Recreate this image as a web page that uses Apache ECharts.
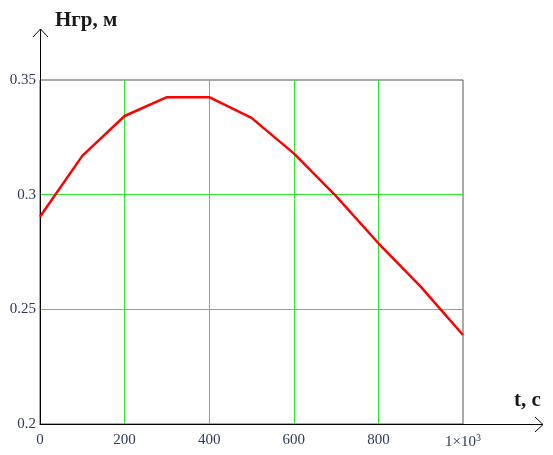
<!DOCTYPE html>
<html>
<head>
<meta charset="utf-8">
<script src="https://cdn.jsdelivr.net/npm/echarts@6/dist/echarts.min.js"></script>
<style>html,body{margin:0;padding:0;background:#fff}#c{width:553px;height:455px}</style>
</head>
<body>
<div id="c"></div>
<script>
var tValues = [0, 100, 200, 300, 400, 500, 600, 700, 800, 900, 1000];
var hValues = [0.2904, 0.3169, 0.3343, 0.3425, 0.3425, 0.3335, 0.3180, 0.2994, 0.2788, 0.2599, 0.2388];
var xTickLabels = {0: '0', 200: '200', 400: '400', 600: '600', 800: '800', 1000: '{a|1×10}{s|3}'};
var yTitle = 'Нгр, м';
var xTitle = 't, c';

var chart = echarts.init(document.getElementById('c'), null, {renderer: 'canvas'});
var labelColor = '#2f3958';
var font = '"Liberation Serif", "DejaVu Serif", serif';
var L = 40, T = 80, R = 463, B = 424;
chart.setOption({
  animation: false,
  grid: {left: L, top: T, right: 553 - R, bottom: 455 - B, show: true, borderColor: '#555', borderWidth: 1},
  xAxis: {
    type: 'value', min: 0, max: 1000, interval: 200,
    axisLine: {show: true, lineStyle: {color: '#000', width: 1}},
    axisTick: {show: false},
    splitLine: {show: true, showMinLine: false, showMaxLine: false, lineStyle: {color: '#2ee82e', width: 1}},
    axisLabel: {
      margin: 9, color: labelColor, fontFamily: font, fontSize: 15,
      formatter: function (v) { return xTickLabels[v] !== undefined ? xTickLabels[v] : ''; },
      rich: {
        a: {color: labelColor, fontFamily: font, fontSize: 15},
        s: {color: labelColor, fontFamily: font, fontSize: 10, verticalAlign: 'top', padding: [0, 0, 8, 0]}
      }
    }
  },
  yAxis: {
    type: 'value', min: 0.2, max: 0.35, interval: 0.05,
    axisLine: {show: true, lineStyle: {color: '#000', width: 1}},
    axisTick: {show: false},
    splitLine: {show: true, showMinLine: false, showMaxLine: false, lineStyle: {color: '#2ee82e', width: 1}},
    axisLabel: {margin: 4, color: labelColor, fontFamily: font, fontSize: 15,
      formatter: function (v) { return String(Math.round(v * 100) / 100); }}
  },
  series: [{
    type: 'line',
    data: tValues.map(function (t, i) { return [t, hValues[i]]; }),
    showSymbol: false,
    lineStyle: {color: '#ff0000', width: 2.5},
    z: 5
  }],
  graphic: [
    {type: 'line', shape: {x1: L + 0.5, y1: T, x2: L + 0.5, y2: 29}, style: {stroke: '#000', lineWidth: 1}},
    {type: 'polyline', shape: {points: [[L - 7, 37], [L + 0.5, 29], [L + 8, 37]]}, style: {stroke: '#000', lineWidth: 1, fill: null}},
    {type: 'line', shape: {x1: R, y1: B + 0.5, x2: 543, y2: B + 0.5}, style: {stroke: '#000', lineWidth: 1}},
    {type: 'polyline', shape: {points: [[535, B - 7], [543, B + 0.5], [535, B + 8]]}, style: {stroke: '#000', lineWidth: 1, fill: null}},
    {type: 'text', left: 55, top: 10, style: {text: yTitle, font: 'bold 21px ' + font, fill: '#1a1a1a'}},
    {type: 'text', left: 514, top: 390, style: {text: xTitle, font: 'bold 21px ' + font, fill: '#1a1a1a'}}
  ]
});
</script>
</body>
</html>
